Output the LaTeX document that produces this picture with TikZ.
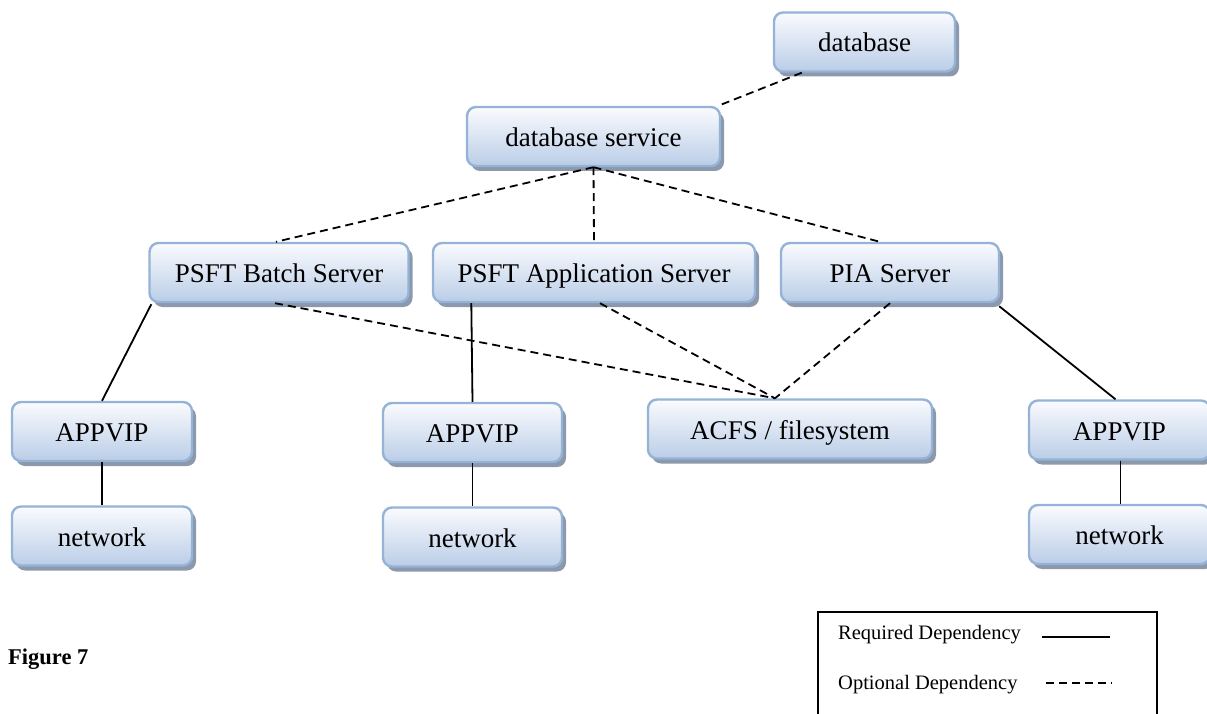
\documentclass[tikz,border=0pt]{standalone}
\usepackage{fontspec}
\setmainfont{Liberation Serif}
\usetikzlibrary{shadows,calc}
\definecolor{nodeborder}{RGB}{149,179,215}
\definecolor{nodetop}{RGB}{250,251,254}
\definecolor{nodebottom}{RGB}{186,205,231}
\definecolor{shadowcol}{RGB}{140,152,172}
\tikzset{
  box/.style={draw=nodeborder, line width=2.4pt, rounded corners=9pt,
    top color=nodetop, bottom color=nodebottom,
    minimum height=59pt, inner sep=0pt,
    text height=20pt, text depth=0pt,
    font=\fontsize{27}{30}\selectfont,
    drop shadow={shadow xshift=4pt, shadow yshift=-5pt, fill=shadowcol, opacity=1}},
  req/.style={line width=1.8pt, black},
  opt/.style={line width=1.8pt, black, dash pattern=on 8pt off 5pt},
  legtext/.style={anchor=west, inner sep=0pt, font=\fontsize{20.5}{24}\selectfont},
}
\begin{document}
\begin{tikzpicture}[x=1pt,y=-1pt]
\useasboundingbox (0,0) rectangle (1207,714);
\clip (0,0) rectangle (1207,714);

% nodes
\node[box, minimum width=181pt] (db)    at (864.5,42)   {database};
\node[box, minimum width=253pt] (dbs)   at (593.5,136.5) {database service};
\node[box, minimum width=259pt] (batch) at (279,272.5)  {PSFT Batch Server};
\node[box, minimum width=322pt] (app)   at (594,272.5)  {PSFT Application Server};
\node[box, minimum width=218pt] (pia)   at (890,272.5)  {PIA Server};
\node[box, minimum width=180pt] (vipL)  at (102,431.5)  {APPVIP};
\node[box, minimum width=180pt] (netL)  at (102,536)    {network};
\node[box, minimum width=179pt] (vipM)  at (472.5,432.5) {APPVIP};
\node[box, minimum width=179pt] (netM)  at (472.5,537)  {network};
\node[box, minimum width=284pt] (acfs)  at (790,429)    {ACFS / filesystem};
\node[box, minimum width=181pt] (vipR)  at (1119.5,430) {APPVIP};
\node[box, minimum width=181pt] (netR)  at (1119.5,534.5) {network};

% optional dependencies
\draw[opt] ([xshift=29pt]db.south west) -- ([xshift=-3pt]dbs.north east);
\draw[opt] (dbs.south) -- ([xshift=-3pt]batch.north);
\draw[opt] (dbs.south) -- (app.north);
\draw[opt] (dbs.south) -- ([xshift=-10pt]pia.north);
\draw[opt] ([xshift=-4pt]batch.south) -- ([xshift=-15pt]acfs.north);
\draw[opt] ([xshift=6pt]app.south) -- ([xshift=-15pt]acfs.north);
\draw[opt] (pia.south) -- ([xshift=-15pt]acfs.north);

% required dependencies
\draw[req] ([xshift=3pt,yshift=-1pt]batch.south west) -- (vipL.north);
\draw[req] ([xshift=39.5pt]app.south west) -- (vipM.north);
\draw[req] ([xshift=-1pt,yshift=-3pt]pia.south east) -- ([xshift=-4pt]vipR.north);
\draw[req] (vipL.south) -- (netL.north);
\draw[req] (vipM.south) -- (netM.north);
\draw[req] ([xshift=1pt]vipR.south) -- ([xshift=1pt]netR.north);

% figure label
\node[anchor=west, inner sep=0pt, font=\bfseries\fontsize{22.5}{26}\selectfont] (fig) at (8,659) {Figure 7};

% legend
\node[draw=black, line width=1.8pt, anchor=north west, minimum width=339pt, minimum height=120pt, inner sep=0pt] (legend) at (817,611) {};
\node[legtext] (lreq) at (838,635) {Required Dependency};
\node[legtext] (lopt) at (838,685) {Optional Dependency};
\coordinate (rqa) at (1042,637);
\coordinate (rqb) at (1110,637);
\coordinate (opa) at (1046,683);
\coordinate (opb) at (1112,683);
\draw[req] (rqa) -- (rqb);
\draw[opt] (opa) -- (opb);
\end{tikzpicture}
\end{document}
